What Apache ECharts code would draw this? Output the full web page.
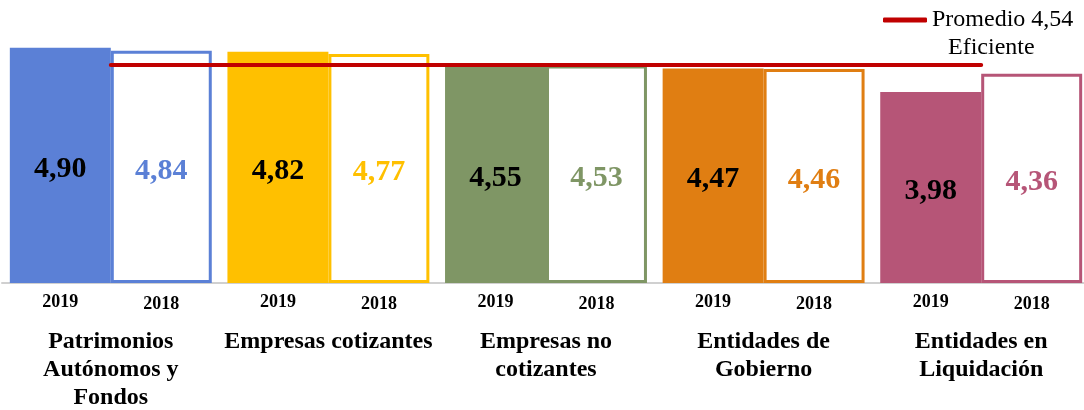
<!DOCTYPE html>
<html>
<head>
<meta charset="utf-8">
<script src="https://cdn.jsdelivr.net/npm/echarts@6/dist/echarts.min.js"></script>
<style>
  html, body { margin: 0; padding: 0; background: #fff; }
  #chart { width: 1084px; height: 410px; }
</style>
</head>
<body>
<div id="chart"></div>
<script>
var categories = ['Patrimonios\nAutónomos y\nFondos', 'Empresas cotizantes', 'Empresas no\ncotizantes', 'Entidades de\nGobierno', 'Entidades en\nLiquidación'];
var years = ['2019', '2018'];
var values2019 = [4.90, 4.82, 4.55, 4.47, 3.98];
var values2018 = [4.84, 4.77, 4.53, 4.46, 4.36];
var promedio = 4.54;
var colors = ['#5b80d6', '#ffc000', '#7f9665', '#e07e12', '#b65577'];

var serif = 'Liberation Serif';

function fmt(v) {
  return v.toFixed(2).replace('.', ',');
}

var chart = echarts.init(document.getElementById('chart'));

// barras de 2019 rellenas, 2018 solo contorno
var data2019 = values2019.map(function(v, i) {
  return { value: v, itemStyle: { color: colors[i] } };
});
var data2018 = values2018.map(function(v, i) {
  return {
    value: v,
    itemStyle: { color: '#fff', borderColor: colors[i], borderWidth: 3 },
    label: { color: colors[i] }
  };
});

var barCommon = {
  type: 'bar',
  barGap: '0%',
  barCategoryGap: '7.2%'
};

var valueLabel = {
  show: true,
  position: 'inside',
  offset: [0, 4],
  formatter: function(p) { return fmt(p.value); },
  fontFamily: serif,
  fontSize: 30,
  fontWeight: 'bold'
};

var yearLabel = {
  show: true,
  position: 'bottom',
  fontFamily: serif,
  fontSize: 18,
  fontWeight: 'bold',
  color: '#000'
};

var option = {
  animation: false,
  grid: { left: 2, width: 1088, top: 19, bottom: 127, outerBoundsMode: 'none' },
  legend: {
    data: ['Promedio 4,54'],
    left: 878,
    top: 3,
    icon: 'roundRect',
    itemWidth: 44,
    itemHeight: 5,
    textStyle: { fontFamily: serif, fontSize: 24, color: '#000' }
  },
  graphic: [{
    type: 'text',
    left: 948,
    top: 36,
    style: { text: 'Eficiente', fontFamily: serif, fontSize: 24, fill: '#000' }
  }],
  xAxis: [{
    type: 'category',
    data: categories,
    axisTick: { show: false },
    axisLine: { lineStyle: { color: '#d0d0d0', width: 2 } },
    axisLabel: {
      interval: 0,
      margin: 45,
      fontFamily: serif,
      fontSize: 24,
      fontWeight: 'bold',
      lineHeight: 28,
      color: '#000'
    }
  }, {
    type: 'category',
    data: categories,
    show: false
  }],
  yAxis: {
    type: 'value',
    min: 0,
    max: 5.5,
    show: false,
    splitLine: { show: false }
  },
  series: [
    Object.assign({}, barCommon, {
      name: years[0],
      xAxisIndex: 0,
      data: data2019,
      label: Object.assign({}, valueLabel, { color: '#000' })
    }),
    Object.assign({}, barCommon, {
      name: years[1],
      xAxisIndex: 0,
      data: data2018,
      label: valueLabel
    }),
    // etiquetas de año bajo cada barra
    Object.assign({}, barCommon, {
      name: 'y' + years[0],
      xAxisIndex: 1,
      data: values2019,
      silent: true,
      itemStyle: { color: 'rgba(0,0,0,0)' },
      label: Object.assign({}, yearLabel, { distance: 10, formatter: years[0] })
    }),
    Object.assign({}, barCommon, {
      name: 'y' + years[1],
      xAxisIndex: 1,
      data: values2018,
      silent: true,
      itemStyle: { color: 'rgba(0,0,0,0)' },
      label: Object.assign({}, yearLabel, { distance: 12, formatter: years[1] })
    }),
    {
      name: 'Promedio 4,54',
      type: 'line',
      xAxisIndex: 0,
      data: categories.map(function() { return promedio; }),
      symbol: 'none',
      z: 5,
      itemStyle: { color: '#c00000' },
      lineStyle: { color: '#c00000', width: 4, cap: 'round' }
    }
  ]
};

chart.setOption(option);
</script>
</body>
</html>
